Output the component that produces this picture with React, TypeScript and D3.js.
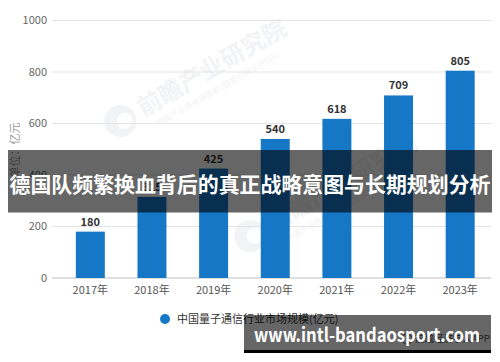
import React from "react";
import * as d3 from "d3";

// 中国量子通信行业市场规模 (亿元)
const years = ["2017年", "2018年", "2019年", "2020年", "2021年", "2022年", "2023年"];
const marketSize = [180, 315, 425, 540, 618, 709, 805];
const yTicks = [0, 200, 400, 600, 800, 1000];

const legendLabel = "中国量子通信行业市场规模(亿元)";
const yTitle = "单位：亿元";
const bannerTitle = "德国队频繁换血背后的真正战略意图与长期规划分析";
const siteUrl = "www.intl-bandaosport.com";

const W = 500;
const H = 362;
const font = "'Noto Sans CJK SC', 'Noto Sans', sans-serif";

export default function App() {
  const margin = { top: 20, right: 9, bottom: 84, left: 52 };

  const y = d3.scaleLinear().domain([0, 1000]).range([278, 20.5]);
  const x = d3
    .scaleBand<string>()
    .domain(years)
    .range([59.5, 491])
    .paddingInner(0.53)
    .paddingOuter(0.265);

  // faint publisher watermark
  const watermark = (cx: number, cy: number, key: string) => (
    <g key={key} transform={`translate(${cx},${cy}) rotate(-30)`} opacity={0.4}>
      <circle cx={-92} cy={0} r={16} fill="#dfe3e8" />
      <circle cx={-88} cy={2} r={8} fill="#fff" />
      <text x={-70} y={8} fontSize={24} fontWeight="bold" fill="#dfe3e8" fontFamily={font}>
        前瞻产业研究院
      </text>
      <text x={-62} y={24} fontSize={8} fill="#dfe3e8" fontFamily={font}>
        中国产业咨询领导者 (股票代码 839355)
      </text>
    </g>
  );

  return (
    <svg
      width={W}
      height={H}
      style={{ position: "absolute", left: 0, top: 0, background: "#fff" }}
      fontFamily={font}
    >
      {watermark(200, 75, "w1")}
      {watermark(330, 190, "w2")}

      {/* gridlines + y labels */}
      {yTicks.map((t) => (
        <g key={t}>
          <line
            x1={margin.left}
            x2={W - margin.right}
            y1={y(t)}
            y2={y(t)}
            stroke={t === 0 ? "#bfbfbf" : "#e3e3e3"}
            strokeWidth={1}
          />
          <text x={47} y={y(t)} dy="0.35em" textAnchor="end" fontSize={11} fill="#666">
            {t}
          </text>
        </g>
      ))}

      <text
        transform={`translate(15,150) rotate(-90)`}
        textAnchor="middle"
        dy="0.35em"
        fontSize={11}
        fill="#999"
      >
        {yTitle}
      </text>

      {/* bars */}
      {years.map((yr, i) => (
        <g key={yr}>
          <rect
            x={x(yr)}
            y={y(marketSize[i])}
            width={x.bandwidth()}
            height={y(0) - y(marketSize[i])}
            fill="#1677c6"
          />
          <text
            x={(x(yr) ?? 0) + x.bandwidth() / 2}
            y={y(marketSize[i]) - 6}
            textAnchor="middle"
            fontSize={11}
            fontWeight="bold"
            fill="#333"
          >
            {marketSize[i]}
          </text>
          <text
            x={(x(yr) ?? 0) + x.bandwidth() / 2}
            y={294}
            textAnchor="middle"
            fontSize={11}
            fill="#555"
          >
            {yr}
          </text>
        </g>
      ))}

      {/* legend */}
      <circle cx={165} cy={319} r={5} fill="#1677c6" />
      <text x={177} y={319} dy="0.35em" fontSize={11} fill="#333">
        {legendLabel}
      </text>

      {/* source mark under the url banner */}
      <circle cx={407} cy={339} r={5} fill="none" stroke="#888" strokeWidth={1.2} />
      <text x={415} y={339} dy="0.35em" fontSize={9.5} fill="#555">
        前瞻经济学人APP
      </text>

      {/* title banner overlay */}
      <rect x={8} y={150} width={484} height={62.5} fill="rgba(0,0,0,0.6)" />
      <text
        x={250}
        y={185}
        dy="0.35em"
        textAnchor="middle"
        fontSize={21}
        fontWeight="bold"
        fill="#fff"
        textLength={481}
        lengthAdjust="spacingAndGlyphs"
      >
        {bannerTitle}
      </text>

      {/* url banner */}
      <rect x={244} y={315} width={247} height={38} fill="rgba(0,0,0,0.6)" />
      <rect x={244} y={350} width={247} height={3} fill="#000" />
      <text
        x={254}
        y={335}
        dy="0.35em"
        fontSize={19}
        fontWeight="bold"
        fill="#fff"
        textLength={226}
        lengthAdjust="spacingAndGlyphs"
      >
        {siteUrl}
      </text>
    </svg>
  );
}
